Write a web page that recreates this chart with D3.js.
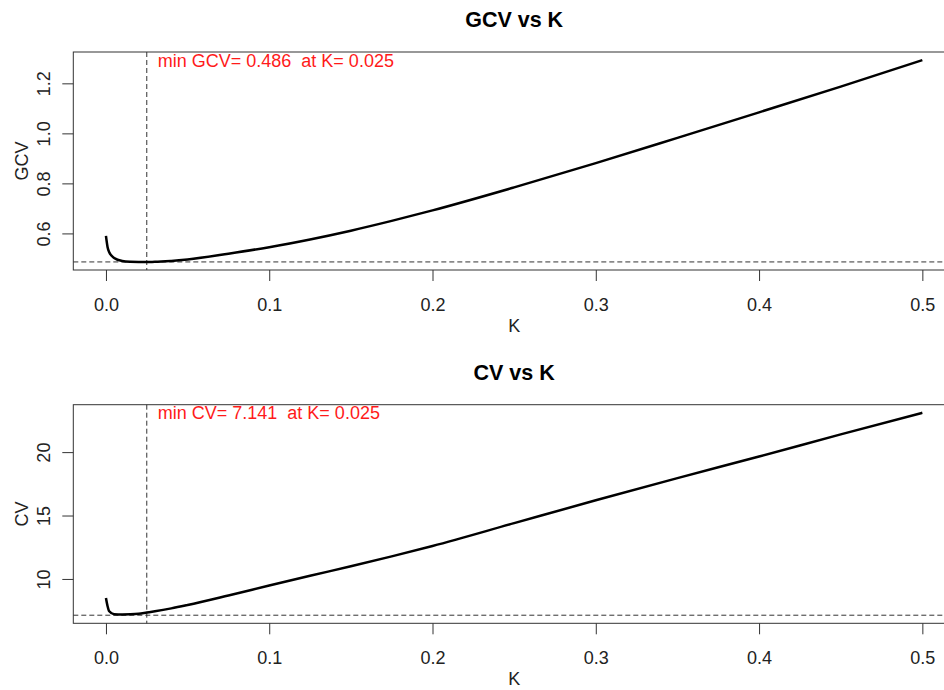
<!DOCTYPE html>
<html lang="en">

<head>
	<meta charset="utf-8">
	<title> GCV and CV vs K </title>
	<script src="https://d3js.org/d3.v7.min.js"></script>
	<style type="text/css">
		body { margin: 0; background: #fff; }
		text { font-family: "Liberation Sans", Arial, sans-serif; }
	</style>
</head>

<body>
	<script type="text/javascript">
	// data
	var kValues   = [0, 0.001, 0.002, 0.005, 0.01, 0.015, 0.02, 0.025, 0.03, 0.04, 0.05, 0.075,
	                 0.1, 0.125, 0.15, 0.175, 0.2, 0.25, 0.3, 0.35, 0.4, 0.45, 0.5]
	var gcvValues = [0.590, 0.545, 0.525, 0.502, 0.490, 0.487, 0.4862, 0.486, 0.4863, 0.490, 0.496, 0.519,
	                 0.545, 0.576, 0.611, 0.650, 0.692, 0.784, 0.881, 0.982, 1.084, 1.187, 1.293]
	var cvValues  = [8.50, 7.85, 7.45, 7.22, 7.20, 7.21, 7.25, 7.35, 7.45, 7.68, 7.95, 8.70,
	                 9.48, 10.25, 11.00, 11.78, 12.60, 14.40, 16.20, 17.95, 19.65, 21.40, 23.10]
	var xTicks   = [0, 0.1, 0.2, 0.3, 0.4, 0.5]
	var gcvTicks = [0.6, 0.8, 1.0, 1.2]
	var cvTicks  = [10, 15, 20]
	var minK   = 0.025
	var minGcv = 0.486
	var minCv  = 7.141

	// window
	var w = 944
	var h = 690
	var left = 73.3
	var right = 955   // box runs past the picture edge

	var svg = d3.select("body")
				.append("svg")
				.attr("width", w)
				.attr("height", h)

	// R style range with 4% padding
	function padded(ext){
		var r = ext[1] - ext[0]
		return [ext[0] - 0.04*r, ext[1] + 0.04*r]
	}

	var xScale = d3.scaleLinear()
				.domain(padded(d3.extent(kValues)))
				.range([left, right])

	function drawPanel(top, bottom, values, minVal, ticks, fmt, title, ylab, label){
		var yScale = d3.scaleLinear()
					.domain(padded([Math.min(minVal, d3.min(values)), d3.max(values)]))
					.range([bottom, top])

		var g = svg.append("g")

		// title
		g.append("text")
			.attr("x", (left + right)/2)
			.attr("y", top - 25)
			.attr("text-anchor", "middle")
			.style("font-size", "21.5px")
			.style("font-weight", "bold")
			.text(title)

		// dashed min lines
		g.append("line")
			.attr("x1", left).attr("x2", right)
			.attr("y1", yScale(minVal)).attr("y2", yScale(minVal))
			.attr("stroke", "#333")
			.attr("stroke-dasharray", "5,3")
		g.append("line")
			.attr("x1", xScale(minK)).attr("x2", xScale(minK))
			.attr("y1", top).attr("y2", bottom)
			.attr("stroke", "#333")
			.attr("stroke-dasharray", "5,3")

		// curve
		var line = d3.line()
					.x((d, i) => xScale(kValues[i]))
					.y(d => yScale(d))
					.curve(d3.curveMonotoneX)
		g.append("path")
			.attr("d", line(values))
			.attr("fill", "none")
			.attr("stroke", "#000")
			.attr("stroke-width", 2.5)

		// box
		g.append("rect")
			.attr("x", left).attr("y", top)
			.attr("width", right - left).attr("height", bottom - top)
			.attr("fill", "none")
			.attr("stroke", "#333")

		// x axis
		var xAxis = d3.axisBottom(xScale).tickValues(xTicks).tickSize(11).tickPadding(0)
					.tickFormat(d3.format(".1f"))
		var gx = g.append("g")
			.attr("transform", "translate(0," + bottom + ")")
			.call(xAxis)
		gx.select(".domain").remove()
		gx.selectAll("line").attr("stroke", "#333")
		gx.selectAll("text")
			.attr("y", 41).attr("dy", null)
			.attr("fill", "#222")
			.style("font-size", "18px")
			.style("font-family", "'Liberation Sans', Arial, sans-serif")

		g.append("text")
			.attr("x", (left + right)/2)
			.attr("y", bottom + 62)
			.attr("text-anchor", "middle")
			.attr("fill", "#222")
			.style("font-size", "18px")
			.text("K")

		// y axis
		var yAxis = d3.axisLeft(yScale).tickValues(ticks).tickSize(11).tickFormat(fmt)
		var gy = g.append("g")
			.attr("transform", "translate(" + left + ",0)")
			.call(yAxis)
		gy.select(".domain").remove()
		gy.selectAll("line").attr("stroke", "#333")
		gy.selectAll("text")
			.attr("x", null).attr("dy", null)
			.attr("transform", "translate(-23,0) rotate(-90)")
			.attr("text-anchor", "middle")
			.attr("fill", "#222")
			.style("font-size", "18px")
			.style("font-family", "'Liberation Sans', Arial, sans-serif")

		g.append("text")
			.attr("transform", "translate(28," + (top + bottom)/2 + ") rotate(-90)")
			.attr("text-anchor", "middle")
			.attr("fill", "#222")
			.style("font-size", "18px")
			.text(ylab)

		// min label
		g.append("text")
			.attr("x", xScale(minK) + 11)
			.attr("y", top + 14.5)
			.attr("fill", "#ff1a1a")
			.style("font-size", "18px")
			.style("white-space", "pre")
			.text(label)
	}

	drawPanel(52, 270, gcvValues, minGcv, gcvTicks, d3.format(".1f"), "GCV vs K", "GCV",
		"min GCV= " + minGcv + "  at K= " + minK)
	drawPanel(404.7, 623.3, cvValues, minCv, cvTicks, d3.format("d"), "CV vs K", "CV",
		"min CV= " + minCv + "  at K= " + minK)

	</script>
</body>
</html>
